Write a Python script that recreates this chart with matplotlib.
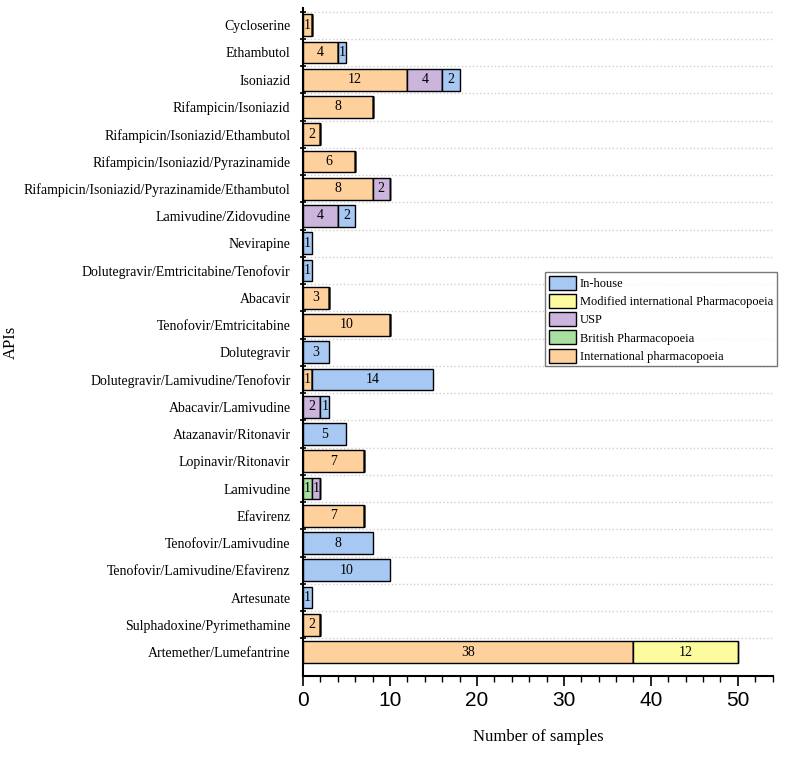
import numpy as np
import matplotlib
matplotlib.use('Agg')
import matplotlib.pyplot as plt
from matplotlib.patches import Patch

apis = [
    'Cycloserine', 'Ethambutol', 'Isoniazid', 'Rifampicin/Isoniazid',
    'Rifampicin/Isoniazid/Ethambutol', 'Rifampicin/Isoniazid/Pyrazinamide',
    'Rifampicin/Isoniazid/Pyrazinamide/Ethambutol', 'Lamivudine/Zidovudine',
    'Nevirapine', 'Dolutegravir/Emtricitabine/Tenofovir', 'Abacavir',
    'Tenofovir/Emtricitabine', 'Dolutegravir', 'Dolutegravir/Lamivudine/Tenofovir',
    'Abacavir/Lamivudine', 'Atazanavir/Ritonavir', 'Lopinavir/Ritonavir',
    'Lamivudine', 'Efavirenz', 'Tenofovir/Lamivudine',
    'Tenofovir/Lamivudine/Efavirenz', 'Artesunate', 'Sulphadoxine/Pyrimethamine',
    'Artemether/Lumefantrine',
]

# stacked in this order, left to right
intl_pharm = [1, 4, 12, 8, 2, 6, 8, 0, 0, 0, 3, 10, 0, 1, 0, 0, 7, 0, 7, 0, 0, 0, 2, 38]
british    = [0, 0, 0, 0, 0, 0, 0, 0, 0, 0, 0, 0, 0, 0, 0, 0, 0, 1, 0, 0, 0, 0, 0, 0]
usp        = [0, 0, 4, 0, 0, 0, 2, 4, 0, 0, 0, 0, 0, 0, 2, 0, 0, 1, 0, 0, 0, 0, 0, 0]
modified   = [0, 0, 0, 0, 0, 0, 0, 0, 0, 0, 0, 0, 0, 0, 0, 0, 0, 0, 0, 0, 0, 0, 0, 12]
in_house   = [0, 1, 2, 0, 0, 0, 0, 2, 1, 1, 0, 0, 3, 14, 1, 5, 0, 0, 0, 8, 10, 1, 0, 0]

series = [
    ('International pharmacopoeia', intl_pharm, '#fdd09c'),
    ('British Pharmacopoeia', british, '#a8e0a0'),
    ('USP', usp, '#cbb5dd'),
    ('Modified international Pharmacopoeia', modified, '#fcfc9e'),
    ('In-house', in_house, '#a6c8f2'),
]

plt.rcParams['font.family'] = 'Liberation Serif'

fig = plt.figure(figsize=(7.86, 7.57), dpi=100)
ax = fig.add_axes([0.3855, 0.107, 0.5975, 0.882])

y = np.arange(len(apis))
left = np.zeros(len(apis))
for name, vals, col in series:
    vals = np.array(vals, dtype=float)
    bars = ax.barh(y, vals, left=left, height=0.8, color=col,
                   edgecolor='black', linewidth=1.0, label=name, zorder=3)
    for b, v in zip(bars, vals):
        if v > 0:
            ax.text(b.get_x() + b.get_width() / 2, b.get_y() + b.get_height() / 2,
                    f'{int(v)}', ha='center', va='center', fontsize=10, zorder=4)
    left += vals

ax.set_ylim(23.88, -0.62)
ax.set_xlim(0, 54)
ax.set_yticks(y)
ax.set_yticklabels(apis, fontsize=10)
ax.tick_params(axis='y', which='major', length=0, pad=9)
ax.set_yticks(np.arange(-0.5, 23, 1), minor=True)
ax.tick_params(axis='y', which='minor', length=5, width=1.2, direction='inout')
ax.grid(True, axis='y', which='minor', linestyle=':', color='#d0d0d0', lw=1, zorder=0)

ax.set_xticks(np.arange(0, 51, 10))
ax.set_xticks(np.arange(0, 55, 2), minor=True)
ax.tick_params(axis='x', which='major', length=7, width=1.2, labelsize=15)
ax.tick_params(axis='x', which='minor', length=4, width=1.0)
for lab in ax.get_xticklabels():
    lab.set_family('Liberation Sans')

for s in ['top', 'right']:
    ax.spines[s].set_visible(False)
for s in ['left', 'bottom']:
    ax.spines[s].set_linewidth(1.5)

ax.set_xlabel('Number of samples', fontsize=12, labelpad=14)
ax.set_ylabel('APIs', fontsize=12)
ax.yaxis.set_label_coords(-0.606, 0.5)

order = [4, 3, 2, 1, 0]
handles = [Patch(facecolor=series[i][2], edgecolor='black', label=series[i][0]) for i in order]
leg = ax.legend(handles=handles, loc='upper left', bbox_to_anchor=(0.515, 0.605),
                fontsize=9, frameon=True, fancybox=False, edgecolor='#555555',
                handlelength=2.2, handleheight=1.35, handletextpad=0.3,
                labelspacing=0.32, borderpad=0.3, borderaxespad=0)
leg.get_frame().set_linewidth(1.0)

fig.savefig('out.png', dpi=100)
